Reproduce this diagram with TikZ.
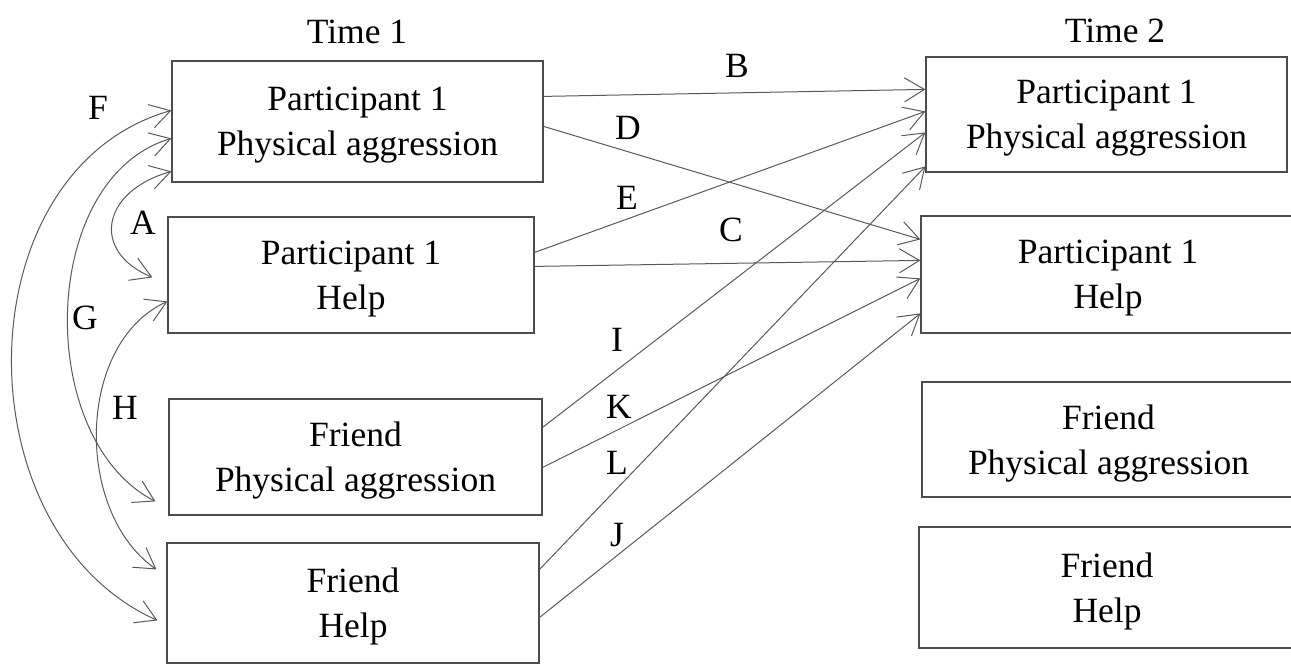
\documentclass[tikz,border=0pt]{standalone}
\usepackage{fontspec}
\setmainfont{Liberation Serif}
\usetikzlibrary{arrows.meta,calc}
\tikzset{
  box/.style={draw=black!70, line width=1.2pt, rectangle, align=center, inner sep=0pt, text depth=0pt},
  lbl/.style={inner sep=0pt},
  barb/.tip={Straight Barb[length=20pt,width=24pt,line width=1pt]},
  arr/.style={draw=black!65, line width=1pt, -barb},
  darr/.style={draw=black!65, line width=1pt, barb-barb},
}
\begin{document}
\begin{tikzpicture}[x=1pt,y=-1pt,font=\fontsize{35.5}{45}\selectfont]
\useasboundingbox (0,0) rectangle (1291,664);
% titles
\node[lbl,anchor=base] (t1) at (357,43) {Time 1};
\node[lbl,anchor=base] (t2) at (1115,42) {Time 2};
% Time 1 boxes
\node[box,minimum width=371pt,minimum height=121pt] (p1pa1) at (357.5,121.5) {Participant 1\\Physical aggression};
\node[box,minimum width=366pt,minimum height=116pt] (p1h1) at (351,275) {Participant 1\\Help};
\node[box,minimum width=373pt,minimum height=116pt] (fpa1) at (355.5,457) {Friend\\Physical aggression};
\node[box,minimum width=372pt,minimum height=120pt] (fh1) at (353,603) {Friend\\Help};
% Time 2 boxes
\node[box,minimum width=361pt,minimum height=115pt] (p1pa2) at (1106.5,114.5) {Participant 1\\Physical aggression};
\node[box,minimum width=374pt,minimum height=117pt] (p1h2) at (1108,274.5) {Participant 1\\Help};
\node[box,minimum width=373pt,minimum height=115pt] (fpa2) at (1108.5,439.5) {Friend\\Physical aggression};
\node[box,minimum width=376pt,minimum height=121pt] (fh2) at (1107,587.5) {Friend\\Help};
% cross-lagged paths
\draw[arr] ($(p1pa1.north east)+(0,36)$) -- ($(p1pa2.north west)+(0,33)$);
\draw[arr] ($(p1pa1.north east)+(0,66)$) -- ($(p1h2.north west)+(0,24)$);
\draw[arr] ($(p1h1.north east)+(0,36)$) -- ($(p1pa2.north west)+(0,55)$);
\draw[arr] ($(p1h1.north east)+(0,50)$) -- ($(p1h2.north west)+(0,45)$);
\draw[arr] ($(fpa1.north east)+(0,29)$) -- ($(p1pa2.north west)+(0,76)$);
\draw[arr] ($(fpa1.north east)+(0,69)$) -- ($(p1h2.north west)+(0,63)$);
\draw[arr] ($(fh1.north east)+(0,27)$) -- ($(p1pa2.north west)+(0,110)$);
\draw[arr] ($(fh1.north east)+(0,75)$) -- ($(p1h2.north west)+(0,98)$);
% correlations
\draw[darr] ($(p1pa1.north west)+(0,50)$) .. controls (-38,170) and (-40,532) .. ($(fh1.north west)+(-9,78)$);
\draw[darr] ($(p1pa1.north west)+(0,78)$) .. controls (38,178) and (34,439) .. ($(fpa1.north west)+(-13,103)$);
\draw[darr] ($(p1pa1.north west)+(0,111)$) .. controls (102,191) and (90,251) .. ($(p1h1.north west)+(-15,61)$);
\draw[darr] ($(p1h1.north west)+(0,85)$) .. controls (76,343) and (74,512) .. ($(fh1.north west)+(-10,27)$);
% labels
\node[lbl] (lF) at (98,108) {F};
\node[lbl] (lA) at (143,223) {A};
\node[lbl] (lG) at (85,318) {G};
\node[lbl] (lH) at (125,408) {H};
\node[lbl] (lB) at (737,66) {B};
\node[lbl] (lD) at (628,128) {D};
\node[lbl] (lE) at (627,198) {E};
\node[lbl] (lC) at (731,230) {C};
\node[lbl] (lI) at (617,340) {I};
\node[lbl] (lK) at (619,407) {K};
\node[lbl] (lL) at (617,463) {L};
\node[lbl] (lJ) at (617,535) {J};
\end{tikzpicture}
\end{document}
